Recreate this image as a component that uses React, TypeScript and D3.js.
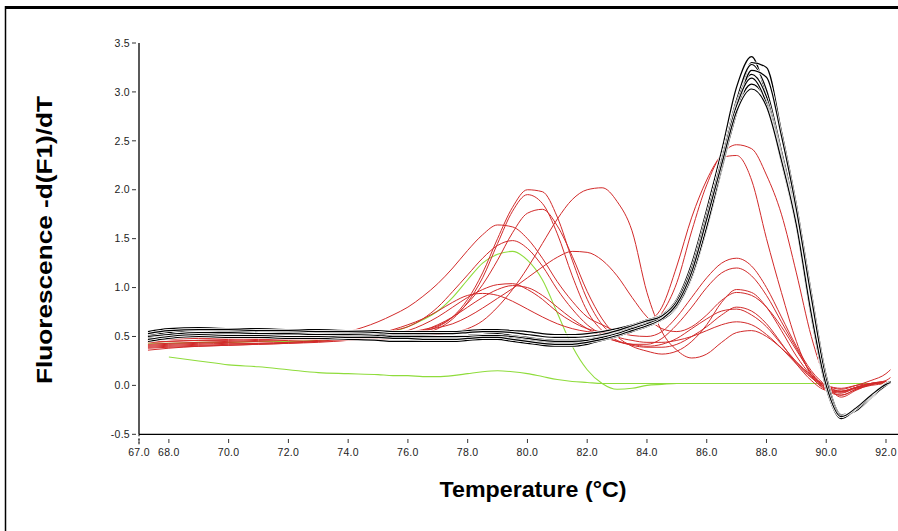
import React from "react";
import * as d3 from "d3";

// Temperature grid (°C) shared by all melt curves
const temps = [67.3, 68, 69, 70, 71, 72, 73, 74, 75, 75.5, 76, 76.5, 77, 77.5, 78, 78.5, 79, 79.5, 80, 80.5, 81, 81.5, 82, 82.5, 83, 83.5, 84, 84.5, 85, 85.5, 86, 86.5, 87, 87.5, 88, 88.5, 89, 89.5, 90, 90.5, 91, 91.5, 92, 92.15];

const black1 = [0.55,0.58,0.59,0.58,0.58,0.57,0.57,0.56,0.56,0.55,0.55,0.55,0.55,0.55,0.56,0.57,0.57,0.56,0.55,0.53,0.52,0.52,0.53,0.55,0.58,0.62,0.67,0.72,0.88,1.25,1.80,2.40,3.05,3.36,2.95,2.30,1.65,0.72,-0.02,-0.33,-0.24,-0.11,0.01,0.04];
const black2 = [0.50,0.53,0.55,0.54,0.54,0.53,0.52,0.52,0.51,0.50,0.50,0.50,0.50,0.50,0.51,0.52,0.52,0.50,0.48,0.46,0.45,0.45,0.46,0.49,0.53,0.58,0.63,0.68,0.80,1.10,1.60,2.20,2.80,3.30,3.25,2.60,1.85,0.95,0.10,-0.30,-0.26,-0.13,0.00,0.03];
const black3 = [0.51,0.54,0.56,0.55,0.55,0.54,0.53,0.53,0.52,0.51,0.51,0.51,0.50,0.50,0.51,0.52,0.53,0.51,0.49,0.47,0.46,0.46,0.47,0.50,0.54,0.59,0.64,0.70,0.84,1.18,1.72,2.32,2.92,3.28,3.02,2.40,1.72,0.78,0.02,-0.32,-0.23,-0.10,0.02,0.04];
const black4 = [0.49,0.52,0.54,0.53,0.53,0.52,0.52,0.51,0.50,0.49,0.49,0.49,0.49,0.49,0.50,0.51,0.51,0.49,0.47,0.45,0.44,0.44,0.46,0.49,0.53,0.57,0.62,0.68,0.82,1.15,1.68,2.28,2.88,3.18,2.95,2.35,1.68,0.76,0.00,-0.34,-0.25,-0.12,0.01,0.03];
const black5 = [0.45,0.48,0.50,0.49,0.49,0.48,0.48,0.47,0.46,0.45,0.45,0.45,0.45,0.45,0.46,0.47,0.47,0.45,0.43,0.41,0.40,0.40,0.42,0.46,0.50,0.55,0.60,0.67,0.80,1.12,1.65,2.25,2.82,3.08,2.90,2.32,1.66,0.74,-0.01,-0.33,-0.24,-0.11,0.01,0.03];
const black6 = [0.50,0.52,0.54,0.54,0.53,0.53,0.52,0.52,0.51,0.50,0.50,0.50,0.50,0.50,0.50,0.51,0.51,0.50,0.48,0.46,0.45,0.45,0.46,0.49,0.53,0.58,0.63,0.69,0.81,1.12,1.62,2.22,2.78,3.22,3.15,2.55,1.80,0.90,0.06,-0.31,-0.26,-0.12,0.00,0.03];
const black7 = [0.53,0.56,0.57,0.57,0.56,0.56,0.55,0.55,0.54,0.53,0.53,0.53,0.53,0.53,0.54,0.55,0.55,0.54,0.52,0.50,0.49,0.49,0.50,0.52,0.56,0.61,0.66,0.71,0.86,1.20,1.74,2.30,2.86,3.14,2.88,2.28,1.62,0.70,-0.03,-0.34,-0.24,-0.11,0.02,0.04];
const black8 = [0.47,0.50,0.52,0.51,0.51,0.50,0.50,0.49,0.49,0.48,0.48,0.47,0.47,0.47,0.48,0.49,0.49,0.47,0.45,0.43,0.42,0.42,0.44,0.47,0.51,0.56,0.61,0.68,0.83,1.16,1.70,2.26,2.80,3.03,2.85,2.30,1.64,0.73,0.00,-0.32,-0.23,-0.10,0.01,0.03];

const red1 = [0.44,0.45,0.46,0.46,0.47,0.47,0.48,0.48,0.49,0.50,0.52,0.55,0.60,0.70,0.88,1.15,1.50,1.82,2.00,1.98,1.72,1.28,0.88,0.62,0.50,0.46,0.44,0.44,0.46,0.50,0.56,0.62,0.65,0.62,0.52,0.38,0.22,0.08,0.00,-0.03,0.00,0.02,0.03,0.03];
const red2 = [0.40,0.41,0.42,0.43,0.43,0.44,0.45,0.46,0.47,0.48,0.50,0.53,0.58,0.68,0.85,1.10,1.45,1.78,1.95,1.86,1.55,1.12,0.76,0.56,0.46,0.41,0.39,0.39,0.42,0.50,0.60,0.72,0.80,0.76,0.63,0.43,0.22,0.05,-0.05,-0.06,-0.02,0.01,0.03,0.03];
const red3 = [0.46,0.47,0.48,0.48,0.49,0.49,0.50,0.50,0.51,0.52,0.54,0.57,0.61,0.70,0.84,1.03,1.28,1.56,1.76,1.80,1.63,1.32,0.96,0.68,0.50,0.40,0.35,0.32,0.35,0.45,0.62,0.85,0.98,0.95,0.80,0.56,0.30,0.10,-0.03,-0.07,-0.03,0.01,0.03,0.03];
const red4 = [0.47,0.48,0.49,0.49,0.50,0.50,0.50,0.50,0.50,0.50,0.50,0.51,0.52,0.54,0.58,0.66,0.80,0.98,1.20,1.45,1.70,1.90,2.00,2.02,1.88,1.58,0.95,0.55,0.36,0.28,0.32,0.44,0.54,0.56,0.50,0.38,0.24,0.10,0.00,-0.04,0.00,0.05,0.12,0.16];
const red5 = [0.42,0.43,0.44,0.45,0.46,0.47,0.50,0.55,0.65,0.72,0.80,0.91,1.04,1.20,1.38,1.54,1.64,1.62,1.50,1.30,1.06,0.86,0.70,0.62,0.55,0.51,0.50,0.55,0.70,0.90,1.10,1.25,1.30,1.22,1.00,0.70,0.40,0.15,0.00,-0.06,-0.02,0.02,0.03,0.03];
const red6 = [0.38,0.39,0.40,0.41,0.42,0.43,0.45,0.48,0.53,0.56,0.60,0.68,0.80,0.96,1.13,1.30,1.43,1.48,1.40,1.22,0.98,0.78,0.62,0.52,0.45,0.42,0.42,0.48,0.62,0.80,1.00,1.15,1.20,1.12,0.92,0.65,0.38,0.12,-0.03,-0.10,-0.04,0.01,0.03,0.03];
const red7 = [0.44,0.45,0.46,0.47,0.48,0.49,0.50,0.51,0.52,0.53,0.54,0.56,0.59,0.63,0.70,0.79,0.89,0.99,1.10,1.21,1.31,1.37,1.36,1.28,1.12,0.90,0.70,0.58,0.55,0.60,0.72,0.87,0.95,0.92,0.80,0.60,0.36,0.13,-0.02,-0.06,-0.02,0.02,0.04,0.04];
const red8 = [0.41,0.42,0.43,0.44,0.45,0.46,0.47,0.48,0.50,0.53,0.56,0.62,0.70,0.80,0.90,0.98,1.03,1.04,0.98,0.88,0.75,0.65,0.58,0.55,0.55,0.58,0.64,0.80,1.22,1.72,2.10,2.36,2.46,2.42,2.15,1.75,1.15,0.50,0.05,-0.12,-0.05,0.01,0.03,0.03];
const red9 = [0.39,0.40,0.41,0.42,0.43,0.44,0.46,0.49,0.53,0.57,0.62,0.68,0.76,0.85,0.92,0.94,0.92,0.86,0.78,0.70,0.63,0.58,0.55,0.54,0.55,0.57,0.60,0.74,1.05,1.58,2.05,2.33,2.35,2.10,1.50,0.95,0.45,0.10,-0.05,-0.10,-0.04,0.00,0.02,0.03];
const red10 = [0.36,0.38,0.40,0.41,0.42,0.43,0.44,0.46,0.48,0.50,0.52,0.56,0.62,0.70,0.80,0.90,0.98,1.02,1.00,0.92,0.80,0.68,0.58,0.50,0.45,0.42,0.40,0.42,0.48,0.58,0.68,0.76,0.78,0.72,0.60,0.42,0.24,0.08,-0.04,-0.08,-0.02,0.02,0.05,0.08];

const green1 = [null,0.29,0.25,0.21,0.19,0.16,0.13,0.12,0.11,0.10,0.10,0.09,0.09,0.10,0.12,0.14,0.15,0.14,0.12,0.09,0.06,0.04,0.03,0.02,0.02,0.02,0.02,0.02,0.02,0.02,0.02,0.02,0.02,0.02,0.02,0.02,0.02,0.02,0.02,0.02,0.02,0.02,0.02,0.02];
const green2 = [0.43,0.43,0.44,0.44,0.45,0.45,0.46,0.48,0.52,0.55,0.60,0.67,0.76,0.90,1.08,1.25,1.34,1.37,1.28,1.08,0.74,0.40,0.16,0.02,-0.04,-0.03,0.00,0.01,0.02,0.02,0.02,0.02,0.02,0.02,0.02,0.02,0.02,0.02,0.02,0.02,0.02,0.02,0.02,0.02];

const blackSeries = [black1, black2, black3, black4, black5, black6, black7, black8];
const redSeries = [red1, red2, red3, red4, red5, red6, red7, red8, red9, red10];
const greenSeries = [green1, green2];

const xTicks = [67, 68, 70, 72, 74, 76, 78, 80, 82, 84, 86, 88, 90, 92];
const yTicks = [-0.5, 0, 0.5, 1, 1.5, 2, 2.5, 3, 3.5];

const xTitle = "Temperature (°C)";
const yTitle = "Fluorescence -d(F1)/dT";

export default function App() {
  const W = 898, H = 531;
  const x = d3.scaleLinear().domain([67, 92]).range([139, 886]);
  const y = d3.scaleLinear().domain([-0.5, 3.5]).range([434.3, 43]);
  const axisX0 = x(67);
  const axisY0 = y(-0.5);

  const line = d3
    .line<number | null>()
    .defined((d) => d !== null)
    .x((_, i) => x(temps[i]))
    .y((d) => y(d as number))
    .curve(d3.curveMonotoneX);

  const font = "'Liberation Sans', Arial, sans-serif";

  return (
    <svg
      width={W}
      height={H}
      style={{ position: "absolute", left: 0, top: 0, background: "#fff" }}
    >
      <rect x={0} y={0} width={W} height={H} fill="#fff" />
      {/* frame */}
      <line x1={5} y1={7.5} x2={W} y2={7.5} stroke="#000" strokeWidth={3} />
      <line x1={5.5} y1={6} x2={5.5} y2={H} stroke="#000" strokeWidth={1.5} />

      {/* axes */}
      <line x1={axisX0} y1={y(3.5)} x2={axisX0} y2={axisY0} stroke="#000" strokeWidth={1.3} />
      <line x1={axisX0} y1={axisY0} x2={W} y2={axisY0} stroke="#000" strokeWidth={1.3} />
      <line x1={axisX0} y1={axisY0} x2={axisX0} y2={axisY0 + 10} stroke="#000" strokeWidth={1} strokeDasharray="2,2" />

      {yTicks.map((t) => (
        <g key={"y" + t}>
          <line x1={132} x2={136} y1={y(t)} y2={y(t)} stroke="#333" strokeWidth={1} />
          <text
            x={130}
            y={y(t)}
            dy="0.35em"
            textAnchor="end"
            fontFamily={font}
            fontSize={10.5}
            letterSpacing={0.3}
            fill="#222"
          >
            {t.toFixed(1)}
          </text>
        </g>
      ))}

      {xTicks.map((t) => (
        <g key={"x" + t}>
          <line x1={x(t)} x2={x(t)} y1={439} y2={443} stroke="#333" strokeWidth={1} />
          <text
            x={x(t)}
            y={456}
            textAnchor="middle"
            fontFamily={font}
            fontSize={10.5}
            letterSpacing={0.3}
            fill="#222"
          >
            {t.toFixed(1)}
          </text>
        </g>
      ))}

      {/* curves */}
      <g fill="none">
        {greenSeries.map((s, i) => (
          <path key={"g" + i} d={line(s) || ""} stroke="#8fdc3c" strokeWidth={1.1} />
        ))}
        {redSeries.map((s, i) => (
          <path key={"r" + i} d={line(s) || ""} stroke="#d22a2a" strokeWidth={1} />
        ))}
        {blackSeries.map((s, i) => (
          <g key={"b" + i}>
            <path d={line(s) || ""} stroke="#fff" strokeWidth={2.6} />
            <path d={line(s) || ""} stroke="#000" strokeWidth={1.2} />
          </g>
        ))}
      </g>

      {/* titles */}
      <text
        x={533}
        y={497}
        textAnchor="middle"
        fontFamily={font}
        fontWeight="bold"
        fontSize={22}
        textLength={187}
        lengthAdjust="spacingAndGlyphs"
        fill="#000"
      >
        {xTitle}
      </text>
      <text
        transform={`translate(52,240) rotate(-90)`}
        textAnchor="middle"
        fontFamily={font}
        fontWeight="bold"
        fontSize={22}
        textLength={288}
        lengthAdjust="spacingAndGlyphs"
        fill="#000"
      >
        {yTitle}
      </text>
    </svg>
  );
}
